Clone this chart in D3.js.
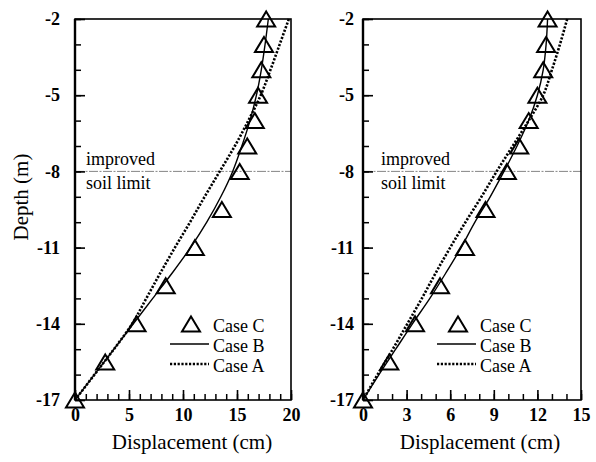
<!DOCTYPE html>
<html>
<head>
<meta charset="utf-8">
<script src="https://cdn.jsdelivr.net/npm/d3@7"></script>
<style>
  html, body { margin: 0; padding: 0; background: #fff; }
  svg { display: block; }
</style>
</head>
<body>
<svg id="chart" width="596" height="462"></svg>
<script>
// Depths (m) at which the computed profiles are given
const lineDepths = [-2, -3, -4, -5, -6, -7, -8, -9, -10, -11, -12, -13, -14, -15, -16, -17];
// Depths (m) of the Case C points
const pointDepths = [-2, -3, -4, -5, -6, -7, -8, -9.5, -11, -12.5, -14, -15.5, -17];

// Left panel: lateral displacement (cm)
const leftCaseA = [19.8, 18.95, 18.1, 17.2, 16.05, 14.8, 13.4, 12.0, 10.65, 9.25, 7.9, 6.6, 5.3, 3.6, 1.8, 0];
const leftCaseB = [17.9, 17.6, 17.25, 16.8, 16.2, 15.45, 14.6, 13.5, 12.2, 10.7, 9.0, 7.2, 5.4, 3.6, 1.8, 0];
const leftCaseC = [17.7, 17.5, 17.25, 16.95, 16.65, 15.95, 15.25, 13.6, 11.1, 8.4, 5.7, 2.8, 0];

// Right panel: lateral displacement (cm)
const rightCaseA = [14.05, 13.55, 13.0, 12.4, 11.4, 10.3, 9.2, 8.15, 7.05, 6.0, 5.0, 4.05, 3.05, 2.05, 1.0, 0];
const rightCaseB = [12.7, 12.6, 12.4, 12.0, 11.4, 10.6, 9.7, 8.75, 7.7, 6.75, 5.7, 4.6, 3.4, 2.25, 1.1, 0];
const rightCaseC = [12.7, 12.6, 12.4, 12.0, 11.4, 10.75, 9.9, 8.43, 7.02, 5.3, 3.58, 1.81, 0];

// Axis ticks
const depthTicks = [-2, -5, -8, -11, -14, -17];
const depthMinorTicks = d3.range(-2, -17.5, -1);
const leftXTicks = [0, 5, 10, 15, 20];
const rightXTicks = [0, 3, 6, 9, 12, 15];

const legendLabels = ["Case C", "Case B", "Case A"];
const limitDepth = -8;
const limitLabel = ["improved", "soil limit"];
const xTitle = "Displacement (cm)";
const yTitle = "Depth (m)";

const FONT = "'Liberation Serif', 'Times New Roman', serif";
const svg = d3.select("#chart").attr("font-family", FONT);
const plotTop = 19, plotBottom = 400;

const panels = [
  { x0: 75, x1: 291, xMax: 20, xTicks: leftXTicks, a: leftCaseA, b: leftCaseB, c: leftCaseC,
    labelPad: 15, noteX: 86, legendX: 170, titleX: 192 },
  { x0: 363, x1: 581, xMax: 15, xTicks: rightXTicks, a: rightCaseA, b: rightCaseB, c: rightCaseC,
    labelPad: 9, noteX: 381, legendX: 437, titleX: 480 }
];

// Open triangle marker, centred on its mid-height
const triPath = "M0,-7.5L9,7.5L-9,7.5Z";
const plainNum = d => String(d);

function styleTicks(s, w) {
  s.select(".domain").remove();
  s.attr("font-family", FONT);
  s.selectAll("line").attr("stroke-width", w);
  s.selectAll("text").attr("font-size", 18).attr("font-weight", "bold").attr("fill", "#000");
}

panels.forEach(p => {
  const x = d3.scaleLinear().domain([0, p.xMax]).range([p.x0, p.x1]);
  const y = d3.scaleLinear().domain([-2, -17]).range([plotTop, plotBottom]);
  const g = svg.append("g");

  // Improved soil limit
  g.append("line")
    .attr("x1", p.x0).attr("x2", p.x1)
    .attr("y1", y(limitDepth)).attr("y2", y(limitDepth))
    .attr("stroke", "#777").attr("stroke-width", 0.9)
    .attr("stroke-dasharray", "9,1.5,2,1.5");
  limitLabel.forEach((t, i) => {
    g.append("text").attr("x", p.noteX).attr("y", y(limitDepth) - 6 + i * 24)
      .attr("font-size", 18).text(t);
  });

  // Minor ticks
  g.append("g").attr("transform", `translate(0,${plotBottom})`)
    .call(d3.axisBottom(x).tickValues(d3.range(0, p.xMax + 0.5, 1)).tickSize(-6).tickFormat(""))
    .call(s => styleTicks(s, 1.5));
  g.append("g").attr("transform", `translate(${p.x0},0)`)
    .call(d3.axisLeft(y).tickValues(depthMinorTicks).tickSize(-6).tickFormat(""))
    .call(s => styleTicks(s, 1.5));

  // Major ticks and labels
  g.append("g").attr("transform", `translate(0,${plotBottom})`)
    .call(d3.axisBottom(x).tickValues(p.xTicks).tickSize(-10).tickPadding(8).tickFormat(plainNum))
    .call(s => styleTicks(s, 1.6));
  g.append("g").attr("transform", `translate(${p.x0},0)`)
    .call(d3.axisLeft(y).tickValues(depthTicks).tickSize(-10).tickPadding(p.labelPad).tickFormat(plainNum))
    .call(s => styleTicks(s, 1.6));

  // Frame
  g.append("rect").attr("x", p.x0).attr("y", plotTop)
    .attr("width", p.x1 - p.x0).attr("height", plotBottom - plotTop)
    .attr("fill", "none").attr("stroke", "#000").attr("stroke-width", 1.6);
  g.append("line").attr("x1", p.x0).attr("x2", p.x0).attr("y1", plotTop).attr("y2", plotBottom)
    .attr("stroke", "#000").attr("stroke-width", 2.4);

  const line = d3.line().x(d => x(d[0])).y(d => y(d[1])).curve(d3.curveMonotoneY);

  // Case A (dotted)
  g.append("path").datum(p.a.map((v, i) => [v, lineDepths[i]]))
    .attr("d", line).attr("fill", "none").attr("stroke", "#000")
    .attr("stroke-width", 2.6).attr("stroke-dasharray", "2.2,1.6");
  // Case B (solid)
  g.append("path").datum(p.b.map((v, i) => [v, lineDepths[i]]))
    .attr("d", line).attr("fill", "none").attr("stroke", "#000").attr("stroke-width", 1.4);
  // Case C (open triangles)
  g.selectAll("path.pt").data(p.c.map((v, i) => [v, pointDepths[i]])).join("path")
    .attr("class", "pt").attr("d", triPath)
    .attr("transform", d => `translate(${x(d[0])},${y(d[1])})`)
    .attr("fill", "none").attr("stroke", "#000").attr("stroke-width", 2);

  // Legend
  const lg = g.append("g").attr("transform", `translate(${p.legendX},0)`);
  const rows = [325, 345, 365];
  lg.append("path").attr("d", triPath).attr("transform", `translate(21,${rows[0] - 1})`)
    .attr("fill", "none").attr("stroke", "#000").attr("stroke-width", 2);
  lg.append("line").attr("x1", 0).attr("x2", 39).attr("y1", rows[1] - 1).attr("y2", rows[1] - 1)
    .attr("stroke", "#000").attr("stroke-width", 1.4);
  lg.append("line").attr("x1", 0).attr("x2", 39).attr("y1", rows[2] - 1).attr("y2", rows[2] - 1)
    .attr("stroke", "#000").attr("stroke-width", 2.6).attr("stroke-dasharray", "2.2,1.6");
  legendLabels.forEach((t, i) => {
    lg.append("text").attr("x", 43).attr("y", rows[i] + 7).attr("font-size", 18).text(t);
  });

  // Axis title
  g.append("text").attr("x", p.titleX).attr("y", 449).attr("text-anchor", "middle")
    .attr("font-size", 21).text(xTitle);
});

// Shared depth title
svg.append("text").attr("transform", "translate(28,197) rotate(-90)")
  .attr("text-anchor", "middle").attr("font-size", 21).text(yTitle);
</script>
</body>
</html>
